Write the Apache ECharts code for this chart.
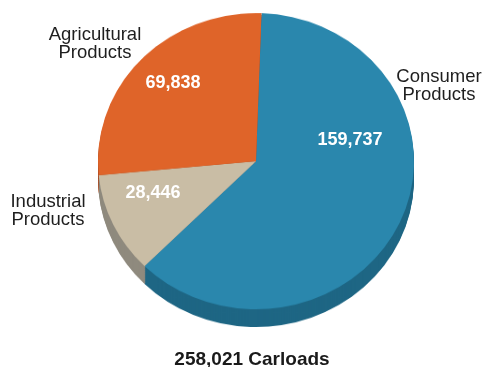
<!DOCTYPE html>
<html>
<head>
<meta charset="utf-8">
<script src="https://cdn.jsdelivr.net/npm/echarts@6/dist/echarts.min.js"></script>
<style>
  html, body { margin: 0; padding: 0; background: #ffffff; }
  #wrap { position: relative; width: 488px; height: 367px; overflow: hidden; }
  /* the disc is drawn slightly flattened, as seen at a tilt */
  #disc { position: absolute; left: 0; top: 0; width: 488px; height: 367px;
          transform: scaleY(0.937); transform-origin: 0 0; }
  #labels { position: absolute; left: 0; top: 0; width: 488px; height: 367px; }
</style>
</head>
<body>
<div id="wrap">
  <div id="disc"></div>
  <div id="labels"></div>
</div>
<script>
// Carloads by commodity group
const categories = ['Consumer Products', 'Industrial Products', 'Agricultural Products'];
const carloads = [159737, 28446, 69838];

// Face and side (extrusion) colours per slice
const topColors = ['#2A87AD', '#C9BDA5', '#DF6429'];
const sideColors = ['#1E6684', '#8F8A7E', '#A84A20'];

// Disc geometry (in the disc canvas, before flattening)
const CX = 256, CY = 172, R = 158, DEPTH = 19, START = 88;
// Label anchor points in page pixels
const nameAnchors = [[439, 86], [48, 211], [95, 44]];
const valueAnchors = [[350, 140], [153, 193], [173, 83]];

const FONT = '"Liberation Sans", Arial, Helvetica, sans-serif';
const total = carloads.reduce((a, b) => a + b, 0);
const fmt = v => v.toLocaleString('en-US');

function sliceData(colors) {
  return categories.map((name, i) => ({
    name: name,
    value: carloads[i],
    itemStyle: { color: colors[i] }
  }));
}

const basePie = {
  type: 'pie',
  radius: R,
  startAngle: START,
  clockwise: true,
  avoidLabelOverlap: false,
  silent: true,
  animation: false,
  emphasis: { disabled: true, scale: false },
  itemStyle: { borderWidth: 0 },
  labelLine: { show: false }
};

// ---- disc: side layers + top face ----
const discSeries = [];
const depthSteps = [];
for (let d = 2; d < DEPTH; d += 2) depthSteps.push(d);
depthSteps.push(DEPTH);
depthSteps.reverse().forEach(d => {
  discSeries.push(Object.assign({}, basePie, {
    center: [CX, CY + d],
    data: sliceData(sideColors),
    label: { show: false }
  }));
});
discSeries.push(Object.assign({}, basePie, {
  center: [CX, CY],
  data: sliceData(topColors),
  label: { show: false }
}));

const disc = echarts.init(document.getElementById('disc'), null, { renderer: 'canvas' });
disc.setOption({ animation: false, series: discSeries });

// ---- labels: values inside, names around, total below ----
const transparent = categories.map((name, i) => ({
  name: name,
  value: carloads[i],
  itemStyle: { color: 'rgba(0,0,0,0)' }
}));

const labelSeries = [
  Object.assign({}, basePie, {
    center: [CX, 161],
    radius: 150,
    data: transparent,
    label: {
      show: true,
      position: 'inside',
      formatter: p => fmt(p.value),
      color: '#ffffff',
      fontFamily: FONT,
      fontWeight: 'bold',
      fontSize: 18
    },
    labelLayout: p => ({
      x: valueAnchors[p.dataIndex][0],
      y: valueAnchors[p.dataIndex][1],
      align: 'center',
      verticalAlign: 'middle'
    })
  }),
  Object.assign({}, basePie, {
    center: [CX, 161],
    radius: 150,
    data: transparent,
    label: {
      show: true,
      position: 'outside',
      formatter: p => p.name.replace(' ', '\n'),
      color: '#1e1e1e',
      fontFamily: FONT,
      fontSize: 18.5,
      lineHeight: 18,
      align: 'center'
    },
    labelLayout: p => ({
      x: nameAnchors[p.dataIndex][0],
      y: nameAnchors[p.dataIndex][1],
      align: 'center',
      verticalAlign: 'middle'
    })
  })
];

const labels = echarts.init(document.getElementById('labels'), null, { renderer: 'canvas' });
labels.setOption({
  animation: false,
  series: labelSeries,
  graphic: [{
    type: 'text',
    x: 252,
    y: 360,
    style: {
      text: fmt(total) + ' Carloads',
      font: 'bold 19px ' + FONT,
      fill: '#1a1a1a',
      align: 'center',
      verticalAlign: 'middle'
    }
  }]
});
</script>
</body>
</html>
